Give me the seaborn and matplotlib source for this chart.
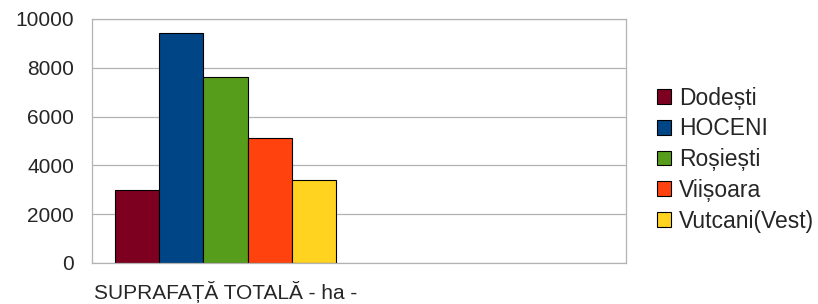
import matplotlib
matplotlib.use("Agg")
import matplotlib.pyplot as plt
import seaborn as sns
import pandas as pd
from matplotlib.patches import Patch

categories = ["SUPRAFAȚĂ TOTALĂ - ha -", ""]
localities = ["Dodești", "HOCENI", "Roșiești", "Viișoara", "Vutcani(Vest)"]
values = [3000, 9420, 7640, 5130, 3420]
colors = ["#7e0021", "#004586", "#579d1c", "#ff420e", "#ffd320"]
yticks = [0, 2000, 4000, 6000, 8000, 10000]

df = pd.DataFrame({"cat": [categories[0]] * len(localities),
                   "loc": localities, "val": values})

sns.set_style("white")
plt.rcParams["font.family"] = ["Liberation Sans", "DejaVu Sans"]

fig = plt.figure(figsize=(8.18, 3.04), dpi=100)
ax = fig.add_axes([0.1125, 0.135, 0.653, 0.8025])

sns.barplot(data=df, x="cat", y="val", hue="loc", order=categories,
            hue_order=localities, palette=colors, saturation=1, width=0.83,
            edgecolor="black", linewidth=0.8, ax=ax, legend=False)

ax.set_xlim(-0.5, 1.5)
ax.set_ylim(0, 10000)
ax.set_yticks(yticks)
ax.set_yticklabels([str(t) for t in yticks], fontsize=15)
ax.set_xticks([0, 1])
ax.set_xticklabels(categories, fontsize=15)
ax.set_xlabel("")
ax.set_ylabel("")
ax.yaxis.grid(True, color="#b3b3b3", linewidth=0.9)
ax.set_axisbelow(True)
for s in ax.spines.values():
    s.set_color("#b3b3b3")
    s.set_linewidth(0.9)
ax.tick_params(axis="x", length=8, color="#b3b3b3", width=0.9, pad=5)
ax.tick_params(axis="y", length=0, pad=13)

handles = [Patch(facecolor=c, edgecolor="black", linewidth=0.8) for c in colors]
fig.legend(handles, localities, loc="center left", bbox_to_anchor=(0.803, 0.475),
           frameon=False, fontsize=16.5, handlelength=0.62, handleheight=0.62,
           handletextpad=0.35, labelspacing=0.34, borderaxespad=0, borderpad=0)

fig.savefig("out.png", dpi=100)
